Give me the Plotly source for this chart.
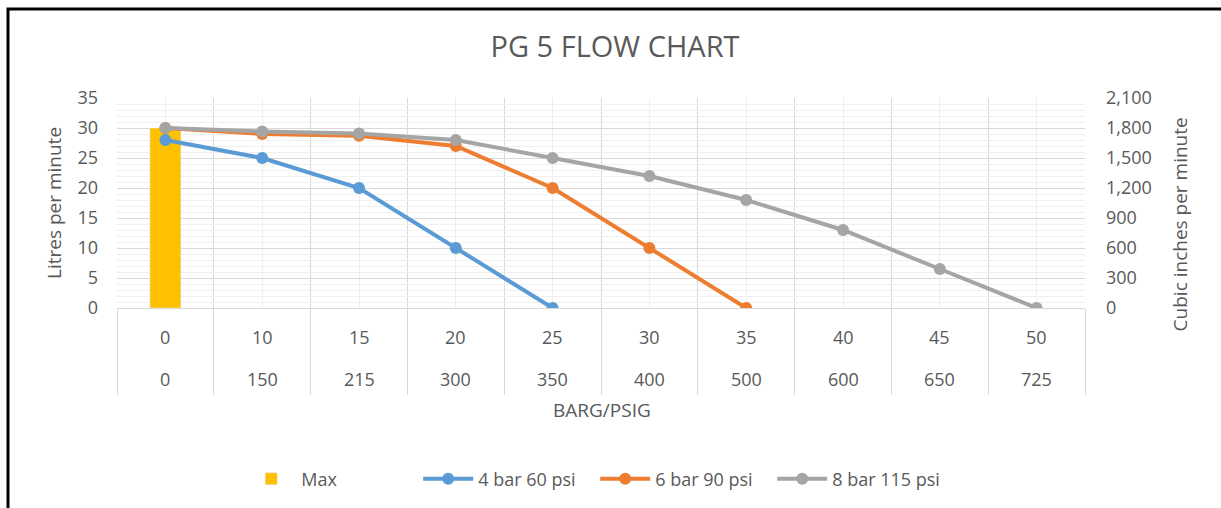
import plotly.graph_objects as go

# ---- data ----
barg = ["0", "10", "15", "20", "25", "30", "35", "40", "45", "50"]
psig = ["0", "150", "215", "300", "350", "400", "500", "600", "650", "725"]
max_flow = [30, None, None, None, None, None, None, None, None, None]
bar4_60 = [28, 25, 20, 10, 0, None, None, None, None, None]
bar6_90 = [30, 29, 28.7, 27, 20, 10, 0, None, None, None]
bar8_115 = [30, 29.4, 29.1, 28, 25, 22, 18, 13, 6.5, 0]
left_ticks = [0, 5, 10, 15, 20, 25, 30, 35]
right_ticks = [0, 300, 600, 900, 1200, 1500, 1800, 2100]

FONT = "Open Sans"
TXT = "#595959"
idx = list(range(len(barg)))

fig = go.Figure()
fig.add_trace(go.Bar(x=idx, y=max_flow, name="Max", marker_color="#FFC000",
                     width=0.32, hoverinfo="y"))
for name, vals, col in [("4 bar 60 psi", bar4_60, "#5B9BD5"),
                        ("6 bar 90 psi", bar6_90, "#ED7D31"),
                        ("8 bar 115 psi", bar8_115, "#A5A5A5")]:
    fig.add_trace(go.Scatter(x=idx, y=vals, name=name, mode="lines+markers",
                             line=dict(color=col, width=4),
                             marker=dict(color=col, size=12),
                             connectgaps=False))
# secondary (cubic inches per minute) axis holder
fig.add_trace(go.Scatter(x=[None], y=[None], yaxis="y2", showlegend=False,
                         hoverinfo="skip", mode="markers"))

ann = []
for i, (b, p) in enumerate(zip(barg, psig)):
    ann.append(dict(x=i, y=-0.137, xref="x", yref="paper", text=b, showarrow=False,
                    font=dict(family=FONT, size=18, color=TXT), yanchor="middle",
                    xanchor="center"))
    ann.append(dict(x=i, y=-0.336, xref="x", yref="paper", text=p, showarrow=False,
                    font=dict(family=FONT, size=18, color=TXT), yanchor="middle",
                    xanchor="center"))
ann.append(dict(x=0.501, y=-0.488, xref="paper", yref="paper", text="BARG/PSIG",
                showarrow=False, font=dict(family=FONT, size=19, color=TXT),
                yanchor="middle", xanchor="center"))
ann.append(dict(x=-0.0651, y=0.5, xref="paper", yref="paper", text="Litres per minute",
                textangle=-90, showarrow=False, xanchor="center", yanchor="middle",
                font=dict(family=FONT, size=19, color=TXT)))
ann.append(dict(x=1.0981, y=0.398, xref="paper", yref="paper", text="Cubic inches per minute",
                textangle=-90, showarrow=False, xanchor="center", yanchor="middle",
                font=dict(family=FONT, size=19, color=TXT)))

fig.update_layout(
    width=1221, height=508,
    margin=dict(l=117, r=136, t=98, b=199),
    paper_bgcolor="white", plot_bgcolor="white",
    title=dict(text="PG 5 FLOW CHART", x=0.5037, xanchor="center", y=0.9075,
               yanchor="middle", font=dict(family=FONT, size=29, color=TXT)),
    font=dict(family=FONT, color=TXT, size=18),
    showlegend=True,
    legend=dict(orientation="h", x=0.494, xanchor="center", y=-0.806, yanchor="middle",
                font=dict(family=FONT, size=18, color=TXT), itemwidth=50,
                entrywidth=112, entrywidthmode="pixels"),
    xaxis=dict(range=[-0.5, 9.5], tickvals=idx, showticklabels=False, ticks="",
               showgrid=True, gridcolor="#EFEFEF", gridwidth=1, zeroline=False,
               showline=True, linecolor="#D9D9D9", linewidth=1,
               minor=dict(tickvals=[i - 0.5 for i in range(len(barg) + 1)],
                          showgrid=True, gridcolor="#D9D9D9", gridwidth=1,
                          ticks="outside", ticklen=86, tickcolor="#D9D9D9", tickwidth=1)),
    yaxis=dict(range=[0, 35], tickvals=left_ticks, showgrid=True, gridcolor="#D9D9D9",
               zeroline=False, ticks="", ticklabelstandoff=18,
               tickfont=dict(family=FONT, size=18, color=TXT),
               minor=dict(dtick=1, showgrid=True, gridcolor="#F0F0F0", gridwidth=1)),
    yaxis2=dict(range=[0, 2100], tickvals=right_ticks, tickformat=",", overlaying="y",
                side="right", showgrid=False, zeroline=False, ticks="",
                ticklabelstandoff=20, tickfont=dict(family=FONT, size=18, color=TXT)),
    annotations=ann,
    shapes=[dict(type="rect", xref="paper", yref="paper",
                 x0=(8 - 117) / 968, x1=(1240 - 117) / 968,
                 y0=(309 - 530) / 211, y1=(309 - 8.5) / 211,
                 line=dict(color="black", width=3), fillcolor="rgba(0,0,0,0)", layer="above")],
)

fig.write_html("out.html", config={"displayModeBar": False},
               post_script="document.body.style.margin='0';")
